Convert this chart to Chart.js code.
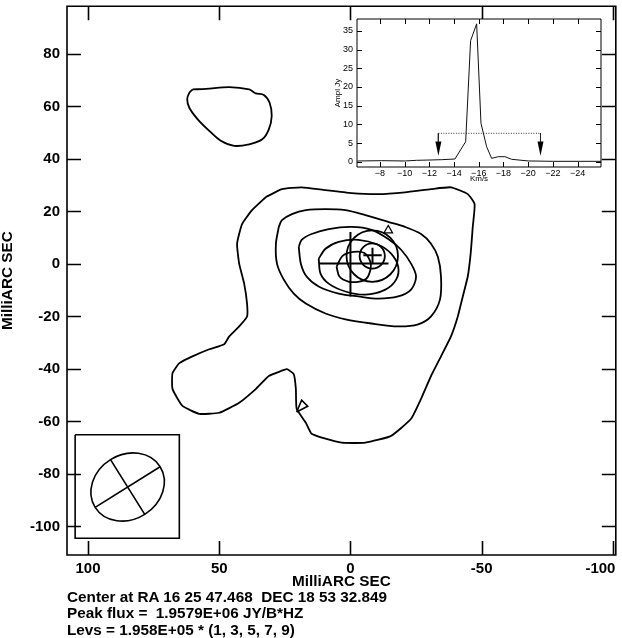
<!DOCTYPE html>
<html>
<head>
<meta charset="utf-8">
<script src="https://cdn.jsdelivr.net/npm/chart.js@4.4.1/dist/chart.umd.min.js"></script>
<style>
  html, body { margin: 0; padding: 0; background: #fff; }
  #wrap { position: relative; width: 622px; height: 638px; overflow: hidden; }
  #main { position: absolute; left: 0; top: 0; }
  #spec { position: absolute; left: 320px; top: 10px; }
  #info { position: absolute; left: 67px; top: 589px; font: bold 15.3px "Liberation Sans", Arial, sans-serif;
          line-height: 16.3px; white-space: pre; color: #000; }
</style>
</head>
<body>
<div id="wrap">
  <canvas id="main" width="622" height="638"></canvas>
  <canvas id="spec" width="285" height="178"></canvas>
  <div id="info"><div>Center at RA 16 25 47.468  DEC 18 53 32.849</div><div>Peak flux =  1.9579E+06 JY/B*HZ</div><div>Levs = 1.958E+05 * (1, 3, 5, 7, 9)</div></div>
</div>
<script>
const FONT = "'Liberation Sans', Arial, Helvetica, sans-serif";

// ---- contour map (MilliARC SEC) ----
const lev1Main = [
  [32.2, 25.5], [26.1, 28.5], [18.6, 29.2], [9.5, 28.1], [-0.4, 27.0], [-10.6, 26.6], [-20.8, 27.3],
  [-30.7, 28.5], [-38.3, 29.2], [-44.7, 26.6], [-47.3, 22.8], [-46.6, 14.1], [-45.8, 3.9], [-44.7, -4.8],
  [-42.8, -12.4], [-40.9, -20.0], [-38.3, -27.6], [-34.5, -35.2], [-30.7, -42.7], [-26.9, -51.4],
  [-23.1, -59.0], [-15.5, -65.5], [-5.7, -68.1], [3.4, -68.1], [9.5, -66.6], [14.8, -64.7], [17.0, -60.5],
  [20.5, -55.2], [20.8, -47.6], [21.6, -42.0], [24.2, -40.1], [26.5, -40.8], [31.1, -42.7], [36.0, -47.6],
  [42.4, -52.9], [50.0, -56.7], [57.6, -57.1], [64.0, -54.1], [67.8, -47.6], [67.8, -41.6], [65.2, -37.8],
  [60.2, -35.2], [53.8, -32.5], [48.1, -30.6], [46.2, -27.6], [42.4, -23.8], [39.4, -20.0], [39.4, -15.1],
  [40.5, -7.5], [42.4, 0.1], [43.2, 7.7], [41.3, 15.2], [37.5, 20.5], [32.2, 25.5]
];
const lev1Notch = [[20.5, -56.4], [18.6, -51.9], [16.3, -54.2], [20.5, -56.4]];
const lev1Island = [
  [60.1, 66.5], [55.0, 66.7], [46.2, 67.4], [38.6, 66.5], [36.1, 65.0], [33.0, 64.4], [30.8, 61.4],
  [30.0, 56.4], [31.1, 51.3], [33.6, 47.5], [38.6, 45.6], [44.3, 45.0], [49.4, 46.9], [53.8, 50.7],
  [58.2, 55.1], [61.4, 59.5], [62.2, 62.7], [61.4, 65.2], [60.1, 66.5]
];
const lev3 = [
  [27.3, 14.1], [28.4, 7.7], [28.0, 0.1], [25.4, -6.0], [21.6, -11.3], [17.0, -15.1], [9.5, -18.9],
  [1.9, -21.1], [-8.0, -22.7], [-18.2, -23.8], [-25.8, -23.0], [-30.7, -20.0], [-34.1, -13.6],
  [-34.5, -4.8], [-33.3, 2.7], [-30.7, 7.7], [-26.9, 11.4], [-20.8, 14.1], [-14.4, 16.0], [-5.7, 18.6],
  [1.9, 20.5], [9.5, 20.9], [17.0, 20.5], [22.3, 19.0], [26.1, 16.7], [27.3, 14.1]
];
const lev5 = [
  [19.7, 6.5], [18.9, 0.1], [16.7, -4.8], [12.1, -8.6], [4.5, -11.3], [-3.0, -12.4], [-10.6, -13.2],
  [-18.2, -12.4], [-23.1, -9.8], [-25.0, -4.8], [-23.1, 0.1], [-19.3, 5.4], [-14.4, 9.5], [-8.0, 13.0],
  [-0.4, 14.1], [8.3, 13.3], [14.8, 11.4], [18.6, 9.2], [19.7, 6.5]
];
const lev7 = [
  [12.1, 2.0], [11.4, -3.7], [8.3, -7.5], [1.9, -10.5], [-5.7, -11.7], [-13.3, -9.8], [-17.4, -6.0],
  [-18.2, -1.1], [-15.5, 3.9], [-10.6, 7.3], [-3.0, 9.2], [4.5, 8.4], [9.5, 5.8], [12.1, 2.0]
];
const lev9 = [
  [5.3, -1.1], [3.0, 3.1], [-1.1, 4.6], [-5.3, 4.2], [-7.6, 0.8], [-7.6, -2.2], [-6.1, -5.6],
  [-3.4, -6.7], [0.8, -6.7], [4.2, -4.8], [5.3, -1.1]
];

// markers
const bigCrossH = [[12.1, 0.2], [-14.5, 0.2]];
const bigCrossV = [[0, 12.2], [0, -12.4]];
const smallCrossH = [[-4.9, 3.3], [-11.9, 3.3]];
const smallCrossV = [[-8.4, 6.2], [-8.4, 0.2]];
const circleCenter = [-8.3, 3.0];
const circleRadii = [4.8, 9.8];
const triangleMark = [[-14.4, 12.8]];

// beam
const beamBoxX = [104.9, 65.2];
const beamBoxY = [-65.1, -104.5];
const beamCenter = [84.9, -85.0];
const beamAxes = [14.6, 12.3];
const beamPA = [-58];

// axis ticks
const mapTicksX = [100, 50, 0, -50, -100];
const mapTicksY = [80, 60, 40, 20, 0, -20, -40, -60, -80, -100];

// ---- spectrum inset ----
const specVel = [-6.17, -8.14, -10.02, -10.97, -12.05, -13.0, -14.07, -14.94, -15.34, -15.83, -16.18,
                 -16.64, -17.04, -17.58, -18.12, -18.66, -20.0, -22.0, -25.9];
const specAmp = [0.19, 0.27, 0.19, 0.37, 0.45, 0.54, 0.72, 5.36, 32.4, 36.9, 10.3,
                 4.0, 0.9, 1.34, 1.34, 0.64, 0.2, 0.1, 0.1];
const bracketVel = [-12.73, -21.0];
const bracketAmp = [7.6];
const arrowAmp = [5.4, 1.6];   // arrowhead base, tip

const pts = arr => arr.map(p => ({x: p[0], y: p[1]}));

const lineSet = (arr, w, tension) => ({
  data: pts(arr), showLine: true, pointRadius: 0, borderColor: '#000',
  borderWidth: w || 1.8, tension: tension || 0, fill: false
});

// frame + inward ticks on all four sides
const frameTicks = {
  id: 'frameTicks',
  afterDatasetsDraw(chart, args, o) {
    const {ctx, chartArea: a, scales: {x, y}} = chart;
    ctx.save();
    ctx.strokeStyle = '#000';
    ctx.lineWidth = o.width;
    ctx.beginPath();
    ctx.rect(a.left, a.top, a.right - a.left, a.bottom - a.top);
    x.ticks.forEach(t => {
      const px = Math.round(x.getPixelForValue(t.value)) + 0.5;
      ctx.moveTo(px, a.bottom); ctx.lineTo(px, a.bottom - o.len);
      ctx.moveTo(px, a.top); ctx.lineTo(px, a.top + o.len);
    });
    y.ticks.forEach(t => {
      const py = Math.round(y.getPixelForValue(t.value)) + 0.5;
      ctx.moveTo(a.left, py); ctx.lineTo(a.left + o.len, py);
      ctx.moveTo(a.right, py); ctx.lineTo(a.right - o.len, py);
    });
    ctx.stroke();
    ctx.restore();
  }
};

const beamDraw = {
  id: 'beamDraw',
  afterDatasetsDraw(chart) {
    const {ctx, scales: {x, y}} = chart;
    const cx = x.getPixelForValue(beamCenter[0]);
    const cy = y.getPixelForValue(beamCenter[1]);
    const k = Math.abs(x.getPixelForValue(1) - x.getPixelForValue(0));
    const a = beamAxes[0] * k, b = beamAxes[1] * k;
    const pa = beamPA[0] * Math.PI / 180;
    const dx = -Math.sin(pa), dy = -Math.cos(pa);
    ctx.save();
    ctx.strokeStyle = '#000';
    ctx.lineWidth = 1.6;
    ctx.beginPath();
    ctx.ellipse(cx, cy, a, b, Math.atan2(dy, dx), 0, 2 * Math.PI);
    ctx.moveTo(cx - a * dx, cy - a * dy); ctx.lineTo(cx + a * dx, cy + a * dy);
    ctx.moveTo(cx + b * dy, cy - b * dx); ctx.lineTo(cx - b * dy, cy + b * dx);
    ctx.stroke();
    ctx.restore();
  }
};

const boxCorners = [
  [beamBoxX[0], beamBoxY[0]], [beamBoxX[1], beamBoxY[0]], [beamBoxX[1], beamBoxY[1]],
  [beamBoxX[0], beamBoxY[1]], [beamBoxX[0], beamBoxY[0]]
];

const tickFont = {family: FONT, size: 15, weight: 'bold'};

new Chart(document.getElementById('main'), {
  type: 'scatter',
  data: {
    datasets: [
      lineSet(lev1Main, 1.8, 0.15),
      lineSet(lev1Notch, 1.6, 0),
      lineSet(lev1Island, 1.8, 0.3),
      lineSet(lev3, 1.8, 0.3),
      lineSet(lev5, 1.8, 0.3),
      lineSet(lev7, 1.8, 0.3),
      lineSet(lev9, 1.8, 0.3),
      lineSet(bigCrossH, 2),
      lineSet(bigCrossV, 2),
      lineSet(smallCrossH, 2),
      lineSet(smallCrossV, 2),
      lineSet(boxCorners, 1.6),
      {
        data: circleRadii.map(r => ({x: circleCenter[0], y: circleCenter[1], r})),
        pointStyle: 'circle', backgroundColor: 'rgba(0,0,0,0)', borderColor: '#000', borderWidth: 1.8,
        pointRadius: c => {
          const s = c.chart.scales.x;
          return Math.abs(s.getPixelForValue(c.raw.x + c.raw.r) - s.getPixelForValue(c.raw.x));
        }
      },
      {
        data: pts(triangleMark), pointStyle: 'triangle', pointRadius: 5,
        backgroundColor: 'rgba(0,0,0,0)', borderColor: '#000', borderWidth: 1.2
      }
    ]
  },
  options: {
    responsive: false,
    animation: false,
    devicePixelRatio: 1,
    layout: {padding: {top: 3, right: 3, left: 0, bottom: 0}},
    plugins: {legend: {display: false}, tooltip: {enabled: false}, frameTicks: {len: 14, width: 1.6}},
    scales: {
      x: {
        type: 'linear', min: -101.1, max: 108.0, reverse: true,
        afterFit: s => { s.height = 83; s.paddingLeft = 0; s.paddingRight = 0; },
        afterBuildTicks: s => { s.ticks = mapTicksX.map(v => ({value: v})); },
        // the last label sits against the frame edge, so pad it on the right
        ticks: {padding: 5, maxRotation: 0, autoSkip: false, color: '#000', font: tickFont,
                callback: v => v === mapTicksX[mapTicksX.length - 1] ? v + '\u2007\u2007\u2007' : String(v)},
        grid: {display: false, drawTicks: false},
        border: {display: false},
        title: {display: true, text: 'MilliARC SEC', color: '#000',
                font: {family: FONT, size: 15.3, weight: 'bold', lineHeight: 1}, padding: {top: 0, bottom: 48.5}}
      },
      y: {
        type: 'linear', min: -110.9, max: 98.2,
        afterFit: s => { s.width = 67; s.paddingTop = 0; s.paddingBottom = 0; },
        afterBuildTicks: s => { s.ticks = mapTicksY.map(v => ({value: v})); },
        ticks: {padding: 7, autoSkip: false, color: '#000', font: tickFont},
        grid: {display: false, drawTicks: false},
        border: {display: false},
        title: {display: true, text: 'MilliARC SEC', color: '#000',
                font: {family: FONT, size: 15.3, weight: 'bold', lineHeight: 1}, padding: {top: 0, bottom: 0}}
      }
    }
  },
  plugins: [frameTicks, beamDraw]
});

// ---- inset spectrum ----
const whiteArea = {
  id: 'whiteArea',
  beforeDatasetsDraw(chart) {
    const {ctx, chartArea: a} = chart;
    ctx.save();
    ctx.fillStyle = '#fff';
    ctx.fillRect(a.left, a.top, a.right - a.left, a.bottom - a.top);
    ctx.restore();
  }
};

const arrowHeads = {
  id: 'arrowHeads',
  afterDatasetsDraw(chart) {
    const {ctx, scales: {x, y}} = chart;
    ctx.save();
    ctx.fillStyle = '#000';
    bracketVel.forEach(v => {
      const px = x.getPixelForValue(v);
      const top = y.getPixelForValue(arrowAmp[0]);
      const tip = y.getPixelForValue(arrowAmp[1]);
      ctx.beginPath();
      ctx.moveTo(px - 3, top); ctx.lineTo(px + 3, top); ctx.lineTo(px, tip); ctx.closePath();
      ctx.fill();
    });
    ctx.restore();
  }
};

const specTicksX = [-8, -10, -12, -14, -16, -18, -20, -22, -24];
const specTicksY = [0, 5, 10, 15, 20, 25, 30, 35];
const smallFont = {family: FONT, size: 9};

new Chart(document.getElementById('spec'), {
  type: 'scatter',
  data: {
    datasets: [
      {
        data: specVel.map((v, i) => ({x: v, y: specAmp[i]})), showLine: true, pointRadius: 0,
        borderColor: '#111', borderWidth: 1
      },
      {
        data: bracketVel.map(v => ({x: v, y: bracketAmp[0]})), showLine: true, pointRadius: 0,
        borderColor: '#333', borderWidth: 1, borderDash: [1, 1.5]
      },
      ...bracketVel.map(v => ({
        data: [{x: v, y: bracketAmp[0]}, {x: v, y: arrowAmp[0]}], showLine: true, pointRadius: 0,
        borderColor: '#222', borderWidth: 1
      }))
    ]
  },
  options: {
    responsive: false,
    animation: false,
    devicePixelRatio: 1,
    layout: {padding: {top: 9, right: 4, left: 0, bottom: 0}},
    plugins: {legend: {display: false}, tooltip: {enabled: false}, frameTicks: {len: 5, width: 1}},
    scales: {
      x: {
        type: 'linear', min: -25.9, max: -6.14, reverse: true,
        afterFit: s => { s.height = 21; s.paddingLeft = 0; s.paddingRight = 0; },
        afterBuildTicks: s => { s.ticks = specTicksX.map(v => ({value: v})); },
        ticks: {padding: 1, maxRotation: 0, autoSkip: false, color: '#000', font: smallFont,
                callback: v => String(v).replace('-', '\u2212')},
        grid: {display: false, drawTicks: false},
        border: {display: false},
        title: {display: true, text: 'Km/s', color: '#000', font: {family: FONT, size: 8, lineHeight: 1},
                padding: {top: 0, bottom: 5}}
      },
      y: {
        type: 'linear', min: -1.42, max: 38.2,
        afterFit: s => { s.width = 37; s.paddingTop = 0; s.paddingBottom = 0; },
        afterBuildTicks: s => { s.ticks = specTicksY.map(v => ({value: v})); },
        ticks: {padding: 4, autoSkip: false, color: '#000', font: smallFont},
        grid: {display: false, drawTicks: false},
        border: {display: false},
        title: {display: true, text: 'Ampl Jy', color: '#000', font: {family: FONT, size: 8, lineHeight: 1},
                padding: {top: 14, bottom: 0}}
      }
    }
  },
  plugins: [whiteArea, frameTicks, arrowHeads]
});
</script>
</body>
</html>
